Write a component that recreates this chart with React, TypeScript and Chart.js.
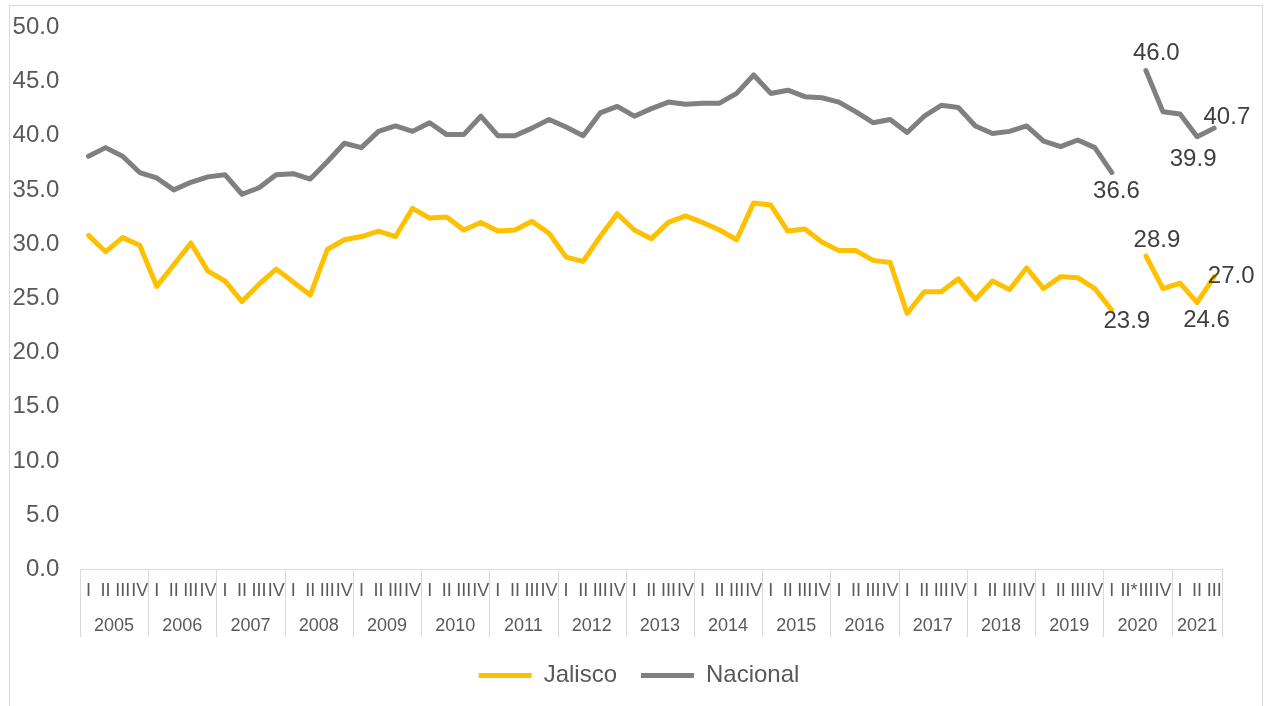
import React, { useEffect, useRef } from "react";
import { Chart, registerables } from "chart.js";

Chart.register(...registerables);

// ---- data ----
const YEARS = ["2005", "2006", "2007", "2008", "2009", "2010", "2011", "2012", "2013", "2014", "2015", "2016", "2017", "2018", "2019", "2020", "2021"];
const QUARTERS_PER_YEAR = [4, 4, 4, 4, 4, 4, 4, 4, 4, 4, 4, 4, 4, 4, 4, 4, 3];
const QUARTER_NAMES = ["I", "II", "III", "IV"];
const QUARTER_NAMES_2020 = ["I", "II*", "III", "IV"];
const CATEGORIES: string[] = YEARS.flatMap((y, k) =>
  (y === "2020" ? QUARTER_NAMES_2020 : QUARTER_NAMES).slice(0, QUARTERS_PER_YEAR[k])
);

const JALISCO: (number | null)[] = [
  30.8, 29.3, 30.6, 29.9,
  26.1, 28.1, 30.1, 27.5,
  26.6, 24.7, 26.3, 27.7,
  26.5, 25.3, 29.5, 30.4,
  30.7, 31.2, 30.7, 33.3,
  32.4, 32.5, 31.3, 32.0,
  31.2, 31.3, 32.1, 31.0,
  28.8, 28.4, 30.7, 32.8,
  31.3, 30.5, 32.0, 32.6,
  32.0, 31.3, 30.4, 33.8,
  33.6, 31.2, 31.4, 30.2,
  29.4, 29.4, 28.5, 28.3,
  23.6, 25.6, 25.6, 26.8,
  24.9, 26.6, 25.8, 27.8,
  25.9, 27.0, 26.9, 25.9,
  23.9, null, 28.9, 25.9,
  26.4, 24.6, 27.0,
];

const NACIONAL: (number | null)[] = [
  38.1, 38.9, 38.1, 36.6,
  36.1, 35.0, 35.7, 36.2,
  36.4, 34.6, 35.2, 36.4,
  36.5, 36.0, 37.6, 39.3,
  38.9, 40.4, 40.9, 40.4,
  41.2, 40.1, 40.1, 41.8,
  40.0, 40.0, 40.7, 41.5,
  40.8, 40.0, 42.1, 42.7,
  41.8, 42.5, 43.1, 42.9,
  43.0, 43.0, 43.9, 45.6,
  43.9, 44.2, 43.6, 43.5,
  43.1, 42.2, 41.2, 41.5,
  40.3, 41.8, 42.8, 42.6,
  40.9, 40.2, 40.4, 40.9,
  39.5, 39.0, 39.6, 38.9,
  36.6, null, 46.0, 42.2,
  42.0, 39.9, 40.7,
];

const SERIES_NAMES = ["Jalisco", "Nacional"];
const SERIES_COLORS = ["#FFC000", "#808080"];

const Y_MIN = 0;
const Y_MAX = 50;
const Y_STEP = 5;

// data labels: which points carry a value label, and offsets from the point
const LABELED_POINTS = [
  { series: 0, index: 60, dx: 15, dy: 11 },
  { series: 0, index: 62, dx: 11, dy: -15.5 },
  { series: 0, index: 65, dx: 9.4, dy: 18 },
  { series: 0, index: 66, dx: 17, dy: 0 },
  { series: 1, index: 60, dx: 4.6, dy: 18.5 },
  { series: 1, index: 62, dx: 10.4, dy: -17.2 },
  { series: 1, index: 65, dx: -4, dy: 23 },
  { series: 1, index: 66, dx: 12.7, dy: -11 },
];

const FONT = "'Liberation Sans', Arial, Helvetica, sans-serif";
const AXIS_COLOR = "#d9d9d9";
const TEXT_COLOR = "#595959";
const LABEL_COLOR = "#404040";

const yearGroupPlugin = {
  id: "yearGroups",
  afterDraw(chart: any) {
    const xs = chart.scales.x;
    const ctx = chart.ctx;
    const half = (xs.getPixelForValue(1) - xs.getPixelForValue(0)) / 2;
    const top = xs.top;
    const bottom = top + 67.7;
    ctx.save();
    ctx.strokeStyle = AXIS_COLOR;
    ctx.lineWidth = 1;
    ctx.fillStyle = TEXT_COLOR;
    ctx.font = `18px ${FONT}`;
    ctx.textAlign = "center";
    ctx.textBaseline = "middle";
    let start = 0;
    let right = 0;
    YEARS.forEach((y, k) => {
      const n = QUARTERS_PER_YEAR[k];
      const left = xs.getPixelForValue(start) - half;
      right = xs.getPixelForValue(start + n - 1) + half;
      const lx = Math.round(left) + 0.5;
      ctx.beginPath();
      ctx.moveTo(lx, top);
      ctx.lineTo(lx, bottom);
      ctx.stroke();
      ctx.fillText(y, (left + right) / 2, top + 56.7);
      start += n;
    });
    const rx = Math.round(right) - 0.5;
    ctx.beginPath();
    ctx.moveTo(rx, top);
    ctx.lineTo(rx, bottom);
    ctx.stroke();
    ctx.restore();
  },
};

const valueLabelPlugin = {
  id: "valueLabels",
  afterDatasetsDraw(chart: any) {
    const ctx = chart.ctx;
    ctx.save();
    ctx.fillStyle = LABEL_COLOR;
    ctx.font = `24px ${FONT}`;
    ctx.textAlign = "center";
    ctx.textBaseline = "middle";
    LABELED_POINTS.forEach((p) => {
      const meta = chart.getDatasetMeta(p.series);
      const el = meta.data[p.index];
      const v = chart.data.datasets[p.series].data[p.index];
      if (!el || v == null) return;
      ctx.fillText(Number(v).toFixed(1), el.x + p.dx, el.y + p.dy);
    });
    ctx.restore();
  },
};

export default function App() {
  const ref = useRef<HTMLCanvasElement | null>(null);

  useEffect(() => {
    if (!ref.current) return;
    const chart = new Chart(ref.current, {
      type: "line",
      data: {
        labels: CATEGORIES,
        datasets: [JALISCO, NACIONAL].map((d, i) => ({
          label: SERIES_NAMES[i],
          data: d,
          borderColor: SERIES_COLORS[i],
          backgroundColor: SERIES_COLORS[i],
          borderWidth: 5,
          borderJoinStyle: "round" as const,
          borderCapStyle: "round" as const,
          pointRadius: 0,
          pointHoverRadius: 0,
          tension: 0,
          spanGaps: false,
          fill: false,
        })),
      },
      options: {
        responsive: false,
        animation: false,
        devicePixelRatio: 1,
        layout: { padding: { left: 11, right: 0, top: 27.3, bottom: 8.4 } },
        plugins: {
          tooltip: { enabled: false },
          legend: {
            position: "bottom",
            labels: {
              usePointStyle: true,
              pointStyle: "line",
              pointStyleWidth: 53,
              padding: 24,
              color: TEXT_COLOR,
              font: { size: 24, family: FONT },
            },
          },
        },
        scales: {
          x: {
            type: "category",
            offset: true,
            grid: { display: false, drawTicks: false, offset: true },
            border: { display: true, color: AXIS_COLOR, width: 1 },
            ticks: {
              autoSkip: false,
              maxRotation: 0,
              minRotation: 0,
              padding: 11.4,
              color: TEXT_COLOR,
              font: { size: 18, family: FONT },
            },
            afterFit: (s: any) => {
              s.height = 70.3;
              s.paddingLeft = 0;
              s.paddingRight = 0;
            },
          },
          y: {
            type: "linear",
            position: "left",
            min: Y_MIN,
            max: Y_MAX,
            grid: { display: false, drawTicks: false },
            border: { display: false },
            ticks: {
              stepSize: Y_STEP,
              padding: 20.7,
              color: TEXT_COLOR,
              font: { size: 24, family: FONT },
              callback: (v: any) => Number(v).toFixed(1),
            },
            afterFit: (s: any) => {
              s.width = 69;
              s.paddingTop = 0;
              s.paddingBottom = 0;
            },
          },
          y2: {
            type: "linear",
            position: "right",
            display: true,
            grid: { display: false, drawTicks: false },
            border: { display: false },
            ticks: { display: false },
            afterFit: (s: any) => {
              s.width = 44.3;
              s.paddingTop = 0;
              s.paddingBottom = 0;
            },
          },
        },
      },
      plugins: [yearGroupPlugin, valueLabelPlugin],
    });
    return () => chart.destroy();
  }, []);

  return (
    <div
      style={{
        position: "fixed",
        left: 0,
        top: 0,
        width: 1267,
        height: 706,
        background: "#ffffff",
        overflow: "hidden",
      }}
    >
      <div
        style={{
          position: "absolute",
          left: 9,
          top: 5,
          width: 1254,
          height: 800,
          border: "1px solid #d9d9d9",
          boxSizing: "border-box",
        }}
      />
      <canvas
        ref={ref}
        width={1267}
        height={706}
        style={{ position: "absolute", left: 0, top: 0, width: 1267, height: 706 }}
      />
    </div>
  );
}
